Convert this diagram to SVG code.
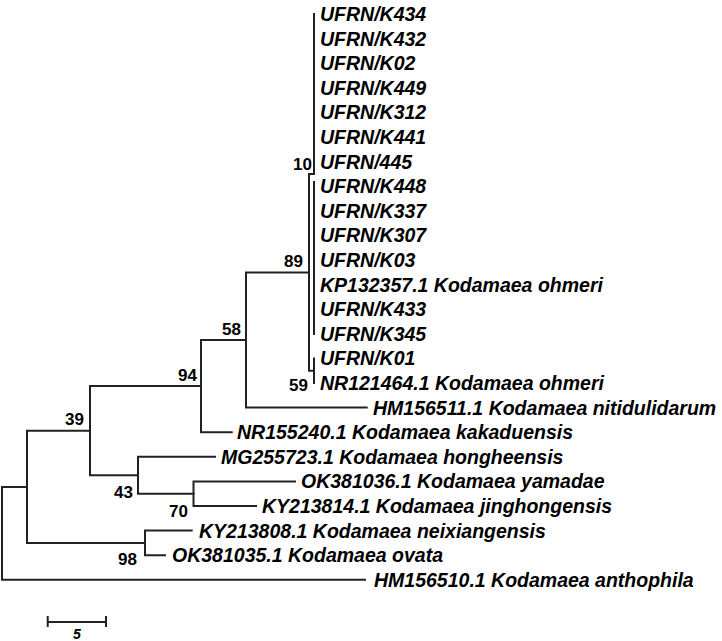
<svg xmlns="http://www.w3.org/2000/svg" width="722" height="641" viewBox="0 0 722 641">
<style>
.br{fill:none;stroke:#222;stroke-width:2;stroke-linecap:square;stroke-linejoin:miter}
.lb{font-family:"Liberation Sans",Arial,sans-serif;font-weight:bold;font-style:italic;font-size:19.5px;fill:#000}
.bs{font-family:"Liberation Sans",Arial,sans-serif;font-weight:bold;font-size:17px;fill:#000;text-anchor:end}
</style>
<rect width="722" height="641" fill="#fff"/>
<g id="connectors">
<path class="br" d="M27,486.9 H2 V579.8 H365"/>
<path class="br" d="M90,430.7 H27 V543 H145"/>
<path class="br" d="M201,386.1 H90 V475.3 H138"/>
<path class="br" d="M246,340 H201 V432.2 H231.7"/>
<path class="br" d="M309,272.4 H246 V407.6 H366.7"/>
<path class="br" d="M314,174 H309 V370.7 H314"/>
<path class="br" d="M314,14 V174"/>
<path class="br" d="M314,182 V334"/>
<path class="br" d="M314,358.4 V383"/>
<path class="br" d="M215,456.8 H138 V493.7 H193.5"/>
<path class="br" d="M295,481.4 H193.5 V506 H256"/>
<path class="br" d="M191.7,530.6 H145 V555.2 H165"/>
</g>
<g id="bootstrap">
<text class="bs" x="312" y="170">10</text>
<text class="bs" x="303" y="267">89</text>
<text class="bs" x="241" y="335">58</text>
<text class="bs" x="197" y="381">94</text>
<text class="bs" x="84" y="425">39</text>
<text class="bs" x="308" y="391">59</text>
<text class="bs" x="133" y="498">43</text>
<text class="bs" x="188" y="517">70</text>
<text class="bs" x="137" y="565">98</text>
</g>
<g id="leaf-K434"><text class="lb" x="320" y="21">UFRN/K434</text></g>
<g id="leaf-K432"><text class="lb" x="320" y="45.6">UFRN/K432</text></g>
<g id="leaf-K02"><text class="lb" x="320" y="70.2">UFRN/K02</text></g>
<g id="leaf-K449"><text class="lb" x="320" y="94.8">UFRN/K449</text></g>
<g id="leaf-K312"><text class="lb" x="320" y="119.4">UFRN/K312</text></g>
<g id="leaf-K441"><text class="lb" x="320" y="144">UFRN/K441</text></g>
<g id="leaf-445"><text class="lb" x="320" y="168.6">UFRN/445</text></g>
<g id="leaf-K448"><text class="lb" x="320" y="193.2">UFRN/K448</text></g>
<g id="leaf-K337"><text class="lb" x="320" y="217.8">UFRN/K337</text></g>
<g id="leaf-K307"><text class="lb" x="320" y="242.4">UFRN/K307</text></g>
<g id="leaf-K03"><text class="lb" x="320" y="267">UFRN/K03</text></g>
<g id="leaf-KP132357"><text class="lb" x="320" y="291.6">KP132357.1 Kodamaea ohmeri</text></g>
<g id="leaf-K433"><text class="lb" x="320" y="316.2">UFRN/K433</text></g>
<g id="leaf-K345"><text class="lb" x="320" y="340.8">UFRN/K345</text></g>
<g id="leaf-K01"><text class="lb" x="320" y="365.4">UFRN/K01</text></g>
<g id="leaf-NR121464"><text class="lb" x="320" y="390">NR121464.1 Kodamaea ohmeri</text></g>
<g id="leaf-HM156511"><text class="lb" x="373" y="414.6">HM156511.1 Kodamaea nitidulidarum</text></g>
<g id="leaf-NR155240"><text class="lb" x="237" y="439.2">NR155240.1 Kodamaea kakaduensis</text></g>
<g id="leaf-MG255723"><text class="lb" x="221" y="463.8">MG255723.1 Kodamaea hongheensis</text></g>
<g id="leaf-OK381036"><text class="lb" x="301" y="488.4">OK381036.1 Kodamaea yamadae</text></g>
<g id="leaf-KY213814"><text class="lb" x="262" y="513">KY213814.1 Kodamaea jinghongensis</text></g>
<g id="leaf-KY213808"><text class="lb" x="199" y="537.6">KY213808.1 Kodamaea neixiangensis</text></g>
<g id="leaf-OK381035"><text class="lb" x="172" y="562.2">OK381035.1 Kodamaea ovata</text></g>
<g id="leaf-HM156510"><text class="lb" x="374" y="586.8">HM156510.1 Kodamaea anthophila</text></g>
<g id="scale-bar">
<path class="br" d="M47.7,622 H106 M47.7,617 V626 M106,617 V626"/>
<text class="lb" x="77" y="638.5" style="font-size:14px;text-anchor:middle">5</text>
</g>
</svg>
